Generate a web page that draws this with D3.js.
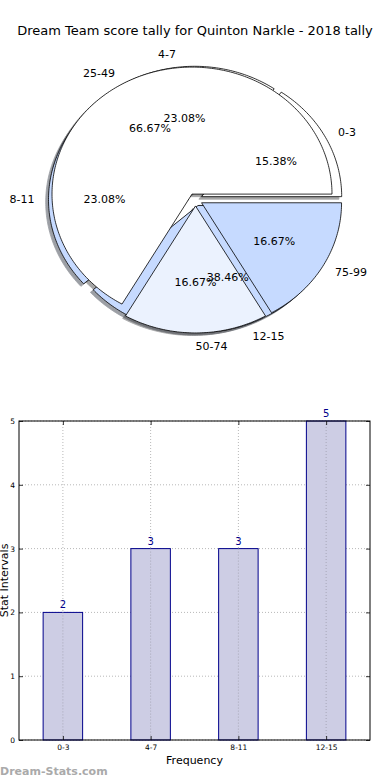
<!DOCTYPE html>
<html>
<head>
<meta charset="utf-8">
<script src="https://cdn.jsdelivr.net/npm/d3@7"></script>
<style>
  html, body { margin: 0; padding: 0; background: #fff; }
  svg { display: block; font-family: "DejaVu Sans", sans-serif; }
</style>
</head>
<body>
<svg id="chart" width="390" height="780"></svg>
<script>
// ---------- data ----------
const chartTitle = "Dream Team score tally for Quinton Narkle - 2018 tally";
const pieALabels = ["0-3", "4-7", "8-11", "12-15"];
const pieAValues = [2, 3, 3, 5];
const pieAColors = ["#ffffff", "#ffffff", "#c6daff", "#c6daff"];
const pieAExplode = [0.05, 0.05, 0.05, 0.05];

const pieBLabels = ["25-49", "50-74", "75-99"];
const pieBValues = [4, 1, 1];
const pieBColors = ["#ffffff", "#ebf2fe", "#c6daff"];
const pieBExplode = [0.05, 0.05, 0.05];

const barCategories = ["0-3", "4-7", "8-11", "12-15"];
const barValues = [2, 3, 3, 5];
const yTickValues = [0, 1, 2, 3, 4, 5];
const xAxisTitle = "Frequency";
const yAxisTitle = "Stat Intervals";
const watermark = "Dream-Stats.com";

// ---------- setup ----------
const svg = d3.select("#chart");

svg.append("text")
  .attr("x", 195).attr("y", 35)
  .attr("text-anchor", "middle")
  .attr("font-size", 13)
  .attr("fill", "#000")
  .text(chartTitle);

// pie scales (data units -> pixels), elliptical axes like the original
const pcx = 195.5, pcy = 199.6, prx = 140, pry = 127;
const px = d3.scaleLinear().domain([-1, 1]).range([pcx - prx, pcx + prx]);
const py = d3.scaleLinear().domain([-1, 1]).range([pcy + pry, pcy - pry]);
const line = d3.line().x(d => px(d[0])).y(d => py(d[1]));

function buildWedges(values, explode) {
  const total = d3.sum(values);
  let acc = 0;
  return values.map((v, i) => {
    const t1 = acc / total * 2 * Math.PI;
    acc += v;
    const t2 = acc / total * 2 * Math.PI;
    const mid = (t1 + t2) / 2;
    const ox = explode[i] * Math.cos(mid), oy = explode[i] * Math.sin(mid);
    const pts = [[ox, oy]];
    const n = Math.max(2, Math.ceil((t2 - t1) / (Math.PI / 180)));
    for (let k = 0; k <= n; k++) {
      const t = t1 + (t2 - t1) * k / n;
      pts.push([ox + Math.cos(t), oy + Math.sin(t)]);
    }
    pts.push([ox, oy]);
    return { i, v, pct: v / total * 100, t1, t2, mid, ox, oy, pts };
  });
}

const wedgesA = buildWedges(pieAValues, pieAExplode);
const wedgesB = buildWedges(pieBValues, pieBExplode);

function shadowColor(c) {
  const r = d3.rgb(c);
  return d3.rgb(r.r * 0.3, r.g * 0.3, r.b * 0.3).toString();
}

const shadowOff = -0.02;
const gShadow = svg.append("g");
[[wedgesA, pieAColors], [wedgesB, pieBColors]].forEach(([ws, cols]) => {
  gShadow.selectAll(null).data(ws).enter().append("path")
    .attr("d", d => line(d.pts.map(p => [p[0] + shadowOff, p[1] + shadowOff])))
    .attr("fill", d => shadowColor(cols[d.i]))
    .attr("stroke", d => shadowColor(cols[d.i]))
    .attr("stroke-width", 0.8)
    .attr("opacity", 0.5);
});

function drawWedges(ws, cols) {
  svg.append("g").selectAll("path").data(ws).enter().append("path")
    .attr("d", d => line(d.pts))
    .attr("fill", d => cols[d.i])
    .attr("stroke", "#000")
    .attr("stroke-width", 0.8)
    .attr("stroke-linejoin", "miter");
}
drawWedges(wedgesA, pieAColors);
drawWedges(wedgesB, pieBColors);

function drawPieTexts(ws, labels) {
  const g = svg.append("g").attr("font-size", 11).attr("fill", "#000");
  g.selectAll("text.lab").data(ws).enter().append("text")
    .attr("x", d => px(d.ox + 1.1 * Math.cos(d.mid)))
    .attr("y", d => py(d.oy + 1.1 * Math.sin(d.mid)))
    .attr("dy", "0.35em")
    .attr("text-anchor", d => Math.cos(d.mid) > -1e-9 ? "start" : "end")
    .text(d => labels[d.i]);
  g.selectAll("text.pct").data(ws).enter().append("text")
    .attr("x", d => px(d.ox + 0.6 * Math.cos(d.mid)))
    .attr("y", d => py(d.oy + 0.6 * Math.sin(d.mid)))
    .attr("dy", "0.35em")
    .attr("text-anchor", "middle")
    .text(d => d3.format(".2f")(d.pct) + "%");
}
drawPieTexts(wedgesA, pieALabels);
drawPieTexts(wedgesB, pieBLabels);

// ---------- bar chart ----------
const bx0 = 19, bx1 = 370, by0 = 421, by1 = 740;
const xIdx = d3.scaleLinear().domain([-0.5, barCategories.length - 0.5]).range([bx0, bx1]);
const yS = d3.scaleLinear().domain([0, 5]).range([by1, by0]);
const barW = 0.45;

const gb = svg.append("g");
// grid
gb.append("g").selectAll("line").data(yTickValues).enter().append("line")
  .attr("x1", bx0).attr("x2", bx1)
  .attr("y1", d => yS(d)).attr("y2", d => yS(d))
  .attr("stroke", "#b8b8b8").attr("stroke-width", 1).attr("stroke-dasharray", "1,2");
gb.append("g").selectAll("line").data(barCategories).enter().append("line")
  .attr("x1", (d, i) => xIdx(i)).attr("x2", (d, i) => xIdx(i))
  .attr("y1", by0).attr("y2", by1)
  .attr("stroke", "#b8b8b8").attr("stroke-width", 1).attr("stroke-dasharray", "1,2");

// bars
gb.append("g").selectAll("rect").data(barValues).enter().append("rect")
  .attr("x", (d, i) => xIdx(i - barW / 2))
  .attr("width", (d, i) => xIdx(i + barW / 2) - xIdx(i - barW / 2))
  .attr("y", d => yS(d))
  .attr("height", d => yS(0) - yS(d))
  .attr("fill", "#cdcde4")
  .attr("stroke", "#00008b")
  .attr("stroke-width", 1);

// grid over bars (matplotlib draws grid lines over the dashed bar region too)
gb.append("g").selectAll("line").data(barCategories).enter().append("line")
  .attr("x1", (d, i) => xIdx(i)).attr("x2", (d, i) => xIdx(i))
  .attr("y1", (d, i) => yS(barValues[i])).attr("y2", by1)
  .attr("stroke", "#a8a8b8").attr("stroke-width", 1).attr("stroke-dasharray", "1,2");

// value labels
gb.append("g").selectAll("text").data(barValues).enter().append("text")
  .attr("x", (d, i) => xIdx(i))
  .attr("y", d => yS(d) - 4)
  .attr("text-anchor", "middle")
  .attr("font-size", 10)
  .attr("fill", "#00008b")
  .text(d => d);

// axes
const yAxis = d3.axisLeft(yS).tickValues(yTickValues).tickSize(-4).tickPadding(4).tickFormat(d3.format("d"));
const yAxisR = d3.axisRight(yS).tickValues(yTickValues).tickSize(-4).tickFormat("");
const xAxis = d3.axisBottom(xIdx).tickValues(d3.range(barCategories.length)).tickSize(-4).tickPadding(5)
  .tickFormat(i => barCategories[i]);
const xAxisT = d3.axisTop(xIdx).tickValues(d3.range(barCategories.length)).tickSize(-4).tickFormat("");

function styleAxis(g) {
  g.select(".domain").remove();
  g.selectAll(".tick line").attr("stroke", "#000").attr("stroke-width", 0.8);
  g.selectAll(".tick text").attr("font-size", 7.5).attr("fill", "#000").attr("font-family", "DejaVu Sans");
}
gb.append("g").attr("transform", `translate(${bx0},0)`).call(yAxis).call(styleAxis);
gb.append("g").attr("transform", `translate(${bx1},0)`).call(yAxisR).call(styleAxis);
gb.append("g").attr("transform", `translate(0,${by1})`).call(xAxis).call(styleAxis);
gb.append("g").attr("transform", `translate(0,${by0})`).call(xAxisT).call(styleAxis);

// frame
gb.append("rect")
  .attr("x", bx0).attr("y", by0).attr("width", bx1 - bx0).attr("height", by1 - by0)
  .attr("fill", "none").attr("stroke", "#000").attr("stroke-width", 1);

// axis titles
svg.append("text")
  .attr("x", (bx0 + bx1) / 2).attr("y", 764)
  .attr("text-anchor", "middle").attr("font-size", 11).attr("fill", "#000")
  .text(xAxisTitle);
svg.append("text")
  .attr("transform", `translate(8,${(by0 + by1) / 2}) rotate(-90)`)
  .attr("text-anchor", "middle").attr("font-size", 11).attr("fill", "#000")
  .text(yAxisTitle);

// watermark
svg.append("text")
  .attr("x", 0).attr("y", 775)
  .attr("font-size", 11).attr("font-weight", "bold").attr("fill", "#aaaaaa")
  .text(watermark);
</script>
</body>
</html>
